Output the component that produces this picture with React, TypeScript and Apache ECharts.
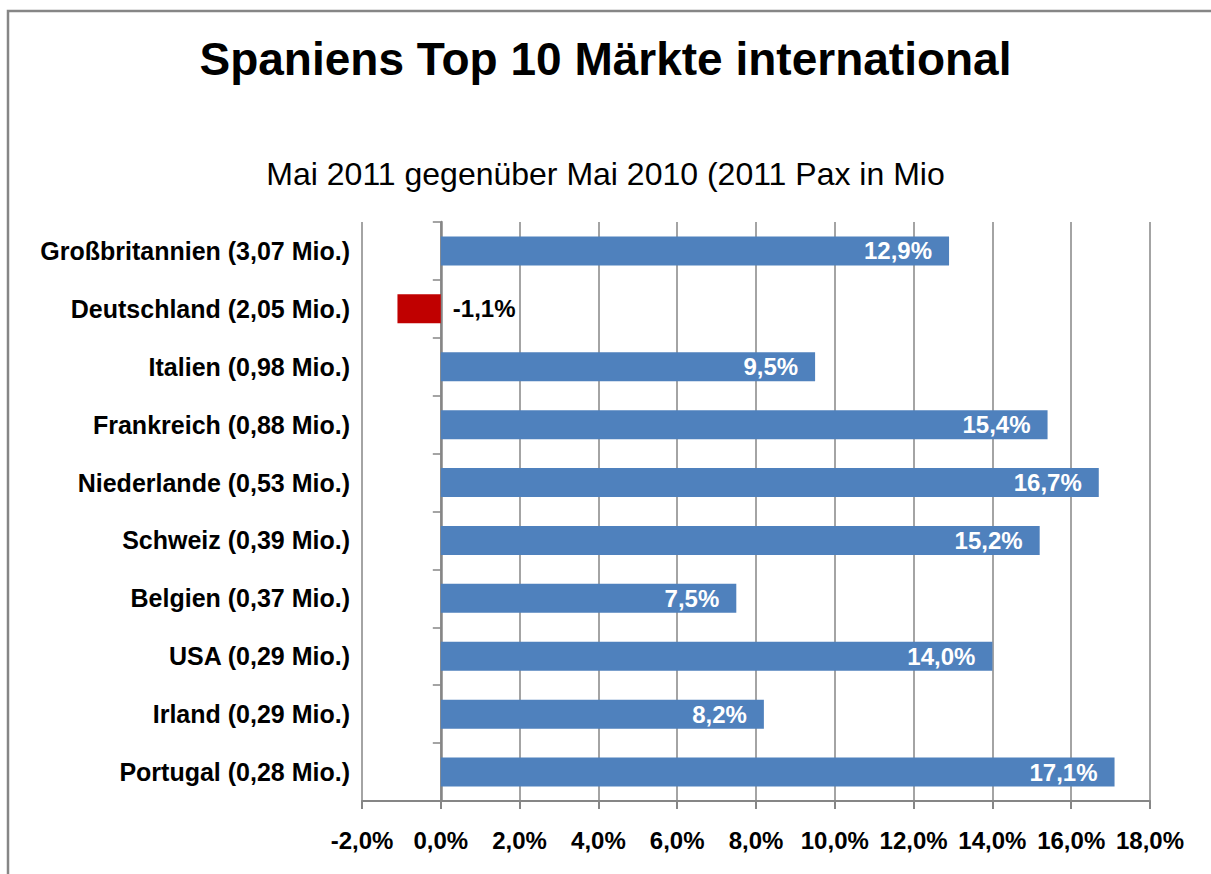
import React, { useEffect, useRef } from "react";
import * as echarts from "echarts";

const categories = [
  "Großbritannien (3,07 Mio.)",
  "Deutschland (2,05 Mio.)",
  "Italien (0,98 Mio.)",
  "Frankreich (0,88 Mio.)",
  "Niederlande (0,53 Mio.)",
  "Schweiz (0,39 Mio.)",
  "Belgien (0,37 Mio.)",
  "USA (0,29 Mio.)",
  "Irland (0,29 Mio.)",
  "Portugal (0,28 Mio.)",
];
const values = [12.9, -1.1, 9.5, 15.4, 16.7, 15.2, 7.5, 14.0, 8.2, 17.1];
const titleText = "Spaniens Top 10 Märkte international";
const subtitleText = "Mai 2011 gegenüber Mai 2010 (2011 Pax in Mio";

const FONT = "'Liberation Sans', Arial, sans-serif";
const fmt = (v: number) => v.toFixed(1).replace(".", ",") + "%";

export default function App() {
  const ref = useRef<HTMLDivElement>(null);
  useEffect(() => {
    if (!ref.current) return;
    const chart = echarts.init(ref.current, null, { renderer: "svg" });
    const data = values.map((v) =>
      v < 0
        ? {
            value: v,
            itemStyle: { color: "#C00000" },
            label: { position: "right", distance: 12, color: "#000" },
          }
        : { value: v }
    );
    chart.setOption({
      animation: false,
      backgroundColor: "#fff",
      title: [
        {
          text: titleText,
          left: "center",
          top: 31,
          textStyle: { fontFamily: FONT, fontSize: 46, fontWeight: "bold", color: "#000" },
        },
        {
          text: subtitleText,
          left: "center",
          top: 153,
          textStyle: { fontFamily: FONT, fontSize: 32, fontWeight: "normal", color: "#000" },
        },
      ],
      grid: { left: 362, right: 61, top: 222, bottom: 73, containLabel: false },
      xAxis: {
        type: "value",
        min: -2,
        max: 18,
        interval: 2,
        axisLine: { show: true, onZero: false, lineStyle: { color: "#868686", width: 2 } },
        axisTick: { show: true, length: 8, lineStyle: { color: "#868686", width: 2 } },
        splitLine: { show: true, lineStyle: { color: "#868686", width: 1.5 } },
        axisLabel: {
          formatter: (v: number) => fmt(v),
          fontFamily: FONT,
          fontSize: 24,
          fontWeight: "bold",
          color: "#000",
          margin: 27,
        },
      },
      yAxis: [
        {
          type: "category",
          data: categories,
          inverse: true,
          position: "left",
          axisLine: { show: false, onZero: false },
          axisTick: { show: false },
          axisLabel: {
            fontFamily: FONT,
            fontSize: 25,
            fontWeight: "bold",
            color: "#000",
            margin: 12,
          },
        },
        {
          type: "category",
          data: categories,
          inverse: true,
          position: "left",
          axisLine: { show: true, onZero: true, lineStyle: { color: "#868686", width: 2.5 } },
          axisTick: { show: true, length: 8, lineStyle: { color: "#868686", width: 1.5 } },
          axisLabel: { show: false },
        },
      ],
      series: [
        {
          type: "bar",
          yAxisIndex: 0,
          data,
          barWidth: 29,
          itemStyle: { color: "#4F81BD" },
          label: {
            show: true,
            position: "insideRight",
            distance: 17,
            formatter: (p: any) => fmt(p.value),
            fontFamily: FONT,
            fontSize: 24,
            fontWeight: "bold",
            color: "#fff",
          },
        },
      ],
      graphic: [
        {
          type: "polyline",
          shape: { points: [[8, 874], [8, 11], [1211, 11]] },
          style: { stroke: "#868686", lineWidth: 2.5, fill: null },
          silent: true,
        },
      ],
    });
    return () => chart.dispose();
  }, []);
  return (
    <div
      ref={ref}
      style={{ position: "absolute", left: 0, top: 0, width: 1211, height: 874 }}
    />
  );
}
